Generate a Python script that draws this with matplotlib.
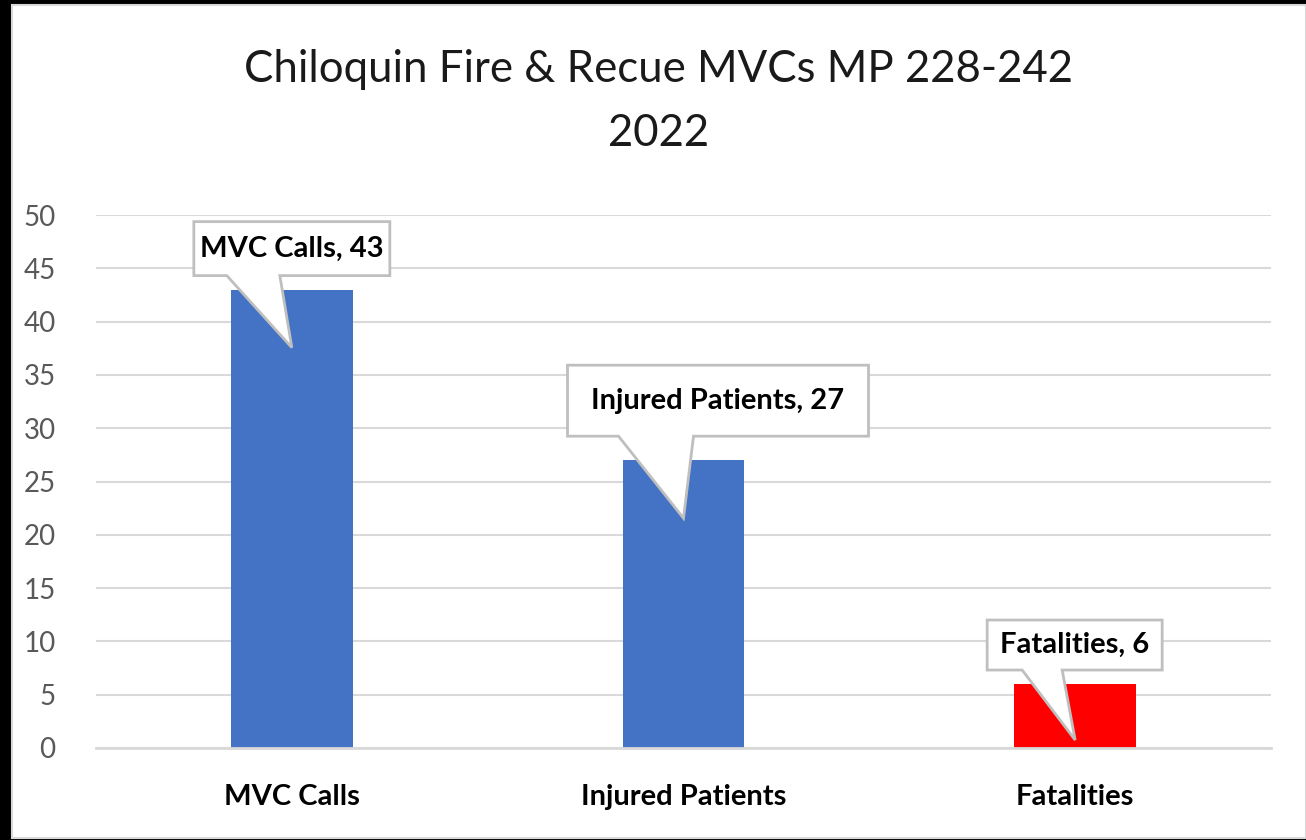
import matplotlib
matplotlib.use("Agg")
import matplotlib.pyplot as plt
from matplotlib.patches import Polygon, Rectangle
from matplotlib.transforms import ScaledTranslation

plt.rcParams['font.family'] = ['Lato', 'DejaVu Sans']

# data
categories = ["MVC Calls", "Injured Patients", "Fatalities"]
values = [43, 27, 6]
colors = ["#4472C4", "#4472C4", "#FF0000"]
title_lines = ["Chiloquin Fire & Recue MVCs MP 228-242", "2022"]

W, H, DPI = 1306, 840, 100
fig = plt.figure(figsize=(W / DPI, H / DPI), dpi=DPI)
fig.patch.set_facecolor("black")
# white chart area with thin gray edge
fig.patches.append(Rectangle((12 / W, 2 / H), 1 - 12 / W, 833 / H, transform=fig.transFigure,
                             facecolor="white", edgecolor="#D9D9D9", lw=1.5, zorder=-10))

ax = fig.add_axes([96 / W, 1 - 748 / H, (1271 - 96) / W, (748 - 215) / H])
ax.set_facecolor("none")
x = range(len(categories))
ax.bar(x, values, width=0.31, color=colors, zorder=2)
ax.set_xlim(-0.5, len(categories) - 0.5)
ax.set_ylim(0, 50)
ax.set_yticks(range(0, 51, 5))
ax.yaxis.grid(True, color="#D9D9D9", lw=1.5, zorder=0)
ax.set_axisbelow(True)
for s in ["top", "right", "left"]:
    ax.spines[s].set_visible(False)
ax.spines["bottom"].set_color("#D9D9D9")
ax.spines["bottom"].set_linewidth(2)
ax.tick_params(axis="y", length=0, pad=29, labelsize=20, labelcolor="#595959")
ax.tick_params(axis="x", length=0, pad=26, labelsize=21)
ax.set_xticks(list(x))
ax.set_xticklabels(categories, fontweight="bold")

for ty, line in zip([70, 133], title_lines):
    fig.text(659 / W, 1 - ty / H, line, ha="center", va="center", fontsize=31.5,
             color="#1a1a1a")

# callouts: shape in pixels relative to bar top
# (box left, box right, box top, box bottom, base left, base right, tip x, tip y)
shapes = [
    (-98, 98, 68, 14, -65, -12, 0, -58),
    (-116, 185, 95, 24, -65, 10, 0, -58),
    (-88, 87, 64, 14, -53, -13, 0, -56),
]
for i, (v, sh) in enumerate(zip(values, shapes)):
    bl, br, bt, bb, pl, pr, tx, ty = sh
    pts = [(bl, bt), (br, bt), (br, bb), (pr, bb), (tx, ty), (pl, bb), (bl, bb)]
    pts = [(px / DPI, py / DPI) for px, py in pts]
    tr = fig.dpi_scale_trans + ScaledTranslation(i, v, ax.transData)
    ax.add_patch(Polygon(pts, closed=True, transform=tr, facecolor="white",
                         edgecolor="#BFBFBF", lw=2, zorder=4, clip_on=False))
    ax.text((bl + br) / 2 / DPI, (bt + bb) / 2 / DPI, f"{categories[i]}, {v}",
            transform=tr, ha="center", va="center", fontsize=21, fontweight="bold",
            zorder=5)

fig.savefig("out.png", dpi=DPI, facecolor=fig.get_facecolor())
